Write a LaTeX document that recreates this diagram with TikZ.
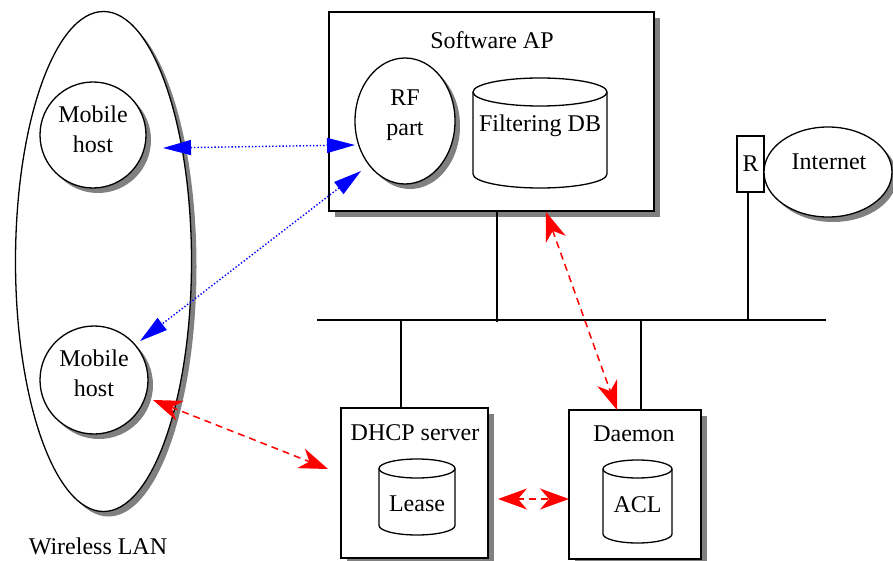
\documentclass[tikz,border=0pt]{standalone}
\usepackage{fontspec}
\setmainfont{Liberation Serif}
\usetikzlibrary{shadows,arrows.meta,shapes.geometric}
\begin{document}
\begin{tikzpicture}[x=1pt,y=1pt,
  every node/.style={font=\fontsize{24}{30}\selectfont, inner sep=0pt},
  shad/.style={drop shadow={shadow xshift=5pt, shadow yshift=-5pt, fill=gray, opacity=1}},
  boxshad/.style={drop shadow={shadow xshift=6pt, shadow yshift=-6pt, fill=gray, opacity=1}},
  obj/.style={draw=black, line width=1.3pt, fill=white},
  bus/.style={draw=black, line width=1.3pt},
  lbl/.style={align=center},
  blue link/.style={draw=blue, line width=1.4pt, dotted, {Triangle[length=28pt,width=15pt]}-{Triangle[length=28pt,width=15pt]}},
  red link/.style={draw=red, line width=1.5pt, dash pattern=on 7pt off 5pt, {Stealth[length=29pt,width=21pt,inset=9pt]}-{Stealth[length=29pt,width=21pt,inset=9pt]}}
]
\useasboundingbox (0,0) rectangle (893,-561);

% Wireless LAN
\node[obj, shad, ellipse, minimum width=176pt, minimum height=500pt] (wlan) at (103.5,-261.5) {};
\node (wlanlbl) at (98,-546) {Wireless LAN};

% Mobile hosts
\node[obj, shad, circle, minimum size=106pt] (mh1) at (93,-135) {};
\node[lbl] (mh1t) at (93,-129) {Mobile\\host};
\node[obj, shad, circle, minimum size=108pt] (mh2) at (94,-380) {};
\node[lbl] (mh2t) at (94,-373) {Mobile\\host};

% Software AP
\node[obj, boxshad, rectangle, minimum width=325pt, minimum height=199pt] (ap) at (491.5,-111.5) {};
\node (aplbl) at (492,-40) {Software AP};
\node[obj, shad, ellipse, minimum width=100pt, minimum height=126pt] (rf) at (405,-121) {};
\node[lbl] (rft) at (405,-115) {RF\\part};

% Filtering DB cylinder
\draw[obj] (473,-92) -- (473,-174) arc[start angle=180, end angle=360, x radius=67, y radius=14] -- (607,-92);
\draw[obj] (540,-92) ellipse[x radius=67, y radius=14];
\node (fdb) at (540,-126) {Filtering DB};

% Router and Internet
\node[obj, rectangle, minimum width=27pt, minimum height=56pt] (r) at (750.5,-164) {R};
\node[obj, shad, ellipse, minimum width=128pt, minimum height=90pt] (inet) at (828,-172) {};
\node (inetlbl) at (829,-162) {Internet};

% Bus
\coordinate (busL) at (317,-320);
\coordinate (busR) at (826,-320);
\draw[bus] (busL) -- (busR);
\draw[bus] (ap.south -| 497,0) -- (497,-322);
\draw[bus] (r.south -| 748,0) -- (748,-320);

% DHCP server
\node[obj, boxshad, rectangle, minimum width=147pt, minimum height=150pt] (dhcp) at (414.5,-483) {};
\node (dhcplbl) at (415,-433) {DHCP server};
\draw[bus] (dhcp.north -| 401,0) -- (401,-320);
\draw[obj] (379,-468.5) -- (379,-525.5) arc[start angle=180, end angle=360, x radius=38, y radius=9.5] -- (455,-468.5);
\draw[obj] (417,-468.5) ellipse[x radius=38, y radius=9.5];
\node (lease) at (417,-504) {Lease};

% Daemon
\node[obj, boxshad, rectangle, minimum width=132pt, minimum height=149pt] (daemon) at (635,-484.5) {};
\node (daemonlbl) at (634,-434) {Daemon};
\draw[bus] (daemon.north -| 641,0) -- (641,-320);
\draw[obj] (603,-469) -- (603,-534) arc[start angle=180, end angle=360, x radius=34.5, y radius=9] -- (672,-469);
\draw[obj] (637.5,-469) ellipse[x radius=34.5, y radius=9];
\node (acl) at (637.5,-505) {ACL};

% Connectors
\coordinate (b1a) at (163,-148);
\coordinate (b1b) at (355,-145);
\draw[blue link] (b1a) -- (b1b);
\coordinate (b2a) at (361,-171);
\coordinate (b2b) at (140,-341);
\draw[blue link] (b2a) -- (b2b);

\coordinate (r1a) at (546,-212);
\coordinate (r1b) at (617,-410);
\draw[red link] (r1a) -- (r1b);
\coordinate (r2a) at (153,-400);
\coordinate (r2b) at (328,-469);
\draw[red link] (r2a) -- (r2b);
\coordinate (r3a) at (498,-499);
\coordinate (r3b) at (569,-499);
\draw[red link] (r3a) -- (r3b);
\end{tikzpicture}
\end{document}
